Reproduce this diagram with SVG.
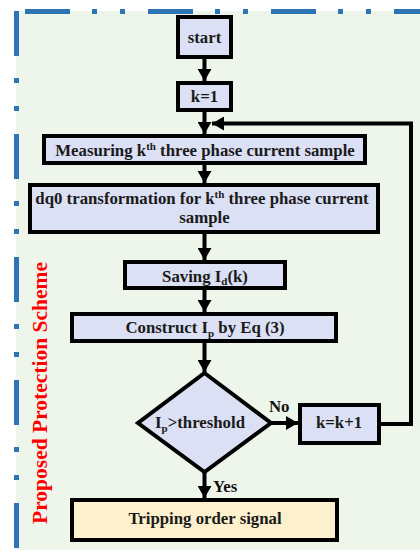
<svg xmlns="http://www.w3.org/2000/svg" width="420" height="550" viewBox="0 0 420 550">
<defs>
<style>
.bg{fill:#eef6eb}
.frame{stroke:#2e75b6;stroke-width:5;fill:none;stroke-dasharray:45 22 5 23 5 23}
.box{fill:#dbe0f4;stroke:#000;stroke-width:4}
.trip{fill:#fdf0cd;stroke:#000;stroke-width:4}
.t{font-family:"Liberation Serif","Times New Roman",serif;font-weight:bold;font-size:16.8px;fill:#1a1a1a;text-anchor:middle}
.lbl{font-family:"Liberation Serif","Times New Roman",serif;font-weight:bold;font-size:16.8px;fill:#111}
.title{font-family:"Liberation Serif","Times New Roman",serif;font-weight:bold;font-size:21.5px;fill:#ff0000;text-anchor:middle}
.ln{stroke:#000;stroke-width:4;fill:none}
</style>
<marker id="ah" markerWidth="12" markerHeight="14" refX="12" refY="7" orient="auto" markerUnits="userSpaceOnUse">
<path d="M0,0 L12,7 L0,14 Z" fill="#000"/>
</marker>
</defs>
<rect class="bg" x="16" y="11" width="404" height="539"/>
<line class="frame" x1="25" y1="11.5" x2="420" y2="11.5"/>
<line class="frame" x1="16.5" y1="11" x2="16.5" y2="550"/>
<text class="title" transform="translate(47,393) rotate(-90)">Proposed Protection Scheme</text>
<g id="connectors">
<line class="ln" x1="204.5" y1="59" x2="204.5" y2="81" marker-end="url(#ah)"/>
<line class="ln" x1="204.5" y1="112" x2="204.5" y2="134" marker-end="url(#ah)"/>
<polyline class="ln" points="379,424 411,424 411,123.5 212,123.5" marker-end="url(#ah)"/>
<line class="ln" x1="204.5" y1="165" x2="204.5" y2="183" marker-end="url(#ah)"/>
<line class="ln" x1="204.5" y1="234" x2="204.5" y2="260" marker-end="url(#ah)"/>
<line class="ln" x1="204.5" y1="290" x2="204.5" y2="312" marker-end="url(#ah)"/>
<line class="ln" x1="204.5" y1="343" x2="204.5" y2="372" marker-end="url(#ah)"/>
<line class="ln" x1="271" y1="423" x2="298" y2="423" marker-end="url(#ah)"/>
<line class="ln" x1="204.5" y1="472" x2="204.5" y2="498" marker-end="url(#ah)"/>
<text class="lbl" x="269" y="412">No</text>
<text class="lbl" x="213" y="492">Yes</text>
</g>
<g id="start">
<rect class="box" x="178" y="17" width="53" height="40"/>
<text class="t" x="204.5" y="42.5">start</text>
</g>
<g id="k1">
<rect class="box" x="178" y="83" width="53" height="27"/>
<text class="t" x="204.5" y="101.5">k=1</text>
</g>
<g id="measure">
<rect class="box" x="44" y="136" width="321" height="27"/>
<text class="t" x="205" y="155.5">Measuring k<tspan font-size="11" dy="-6">th</tspan><tspan dy="6"> three phase current sample</tspan></text>
</g>
<g id="dq0">
<rect class="box" x="30" y="185" width="348" height="47"/>
<text class="t" x="202" y="204">dq0 transformation for k<tspan font-size="11" dy="-6">th</tspan><tspan dy="6"> three phase current</tspan></text>
<text class="t" x="204.5" y="222.5">sample</text>
</g>
<g id="saving">
<rect class="box" x="125" y="262" width="160" height="26"/>
<text class="t" x="205" y="281.5">Saving I<tspan font-size="11" dy="3">d</tspan><tspan dy="-3">(k)</tspan></text>
</g>
<g id="construct">
<rect class="box" x="72" y="314" width="264" height="27"/>
<text class="t" x="205" y="333">Construct I<tspan font-size="11" dy="4">p</tspan><tspan dy="-4"> by Eq (3)</tspan></text>
</g>
<g id="decision">
<polygon class="box" points="204.5,373 271,423 204.5,472 138,423"/>
<text class="t" x="200" y="428">I<tspan font-size="11" dy="4">p</tspan><tspan dy="-4">&gt;threshold</tspan></text>
</g>
<g id="kinc">
<rect class="box" x="300" y="405" width="79" height="38"/>
<text class="t" x="339" y="428">k=k+1</text>
</g>
<g id="trip">
<rect class="trip" x="72" y="500" width="265" height="40"/>
<text class="t" x="205" y="524">Tripping order signal</text>
</g>
</svg>
